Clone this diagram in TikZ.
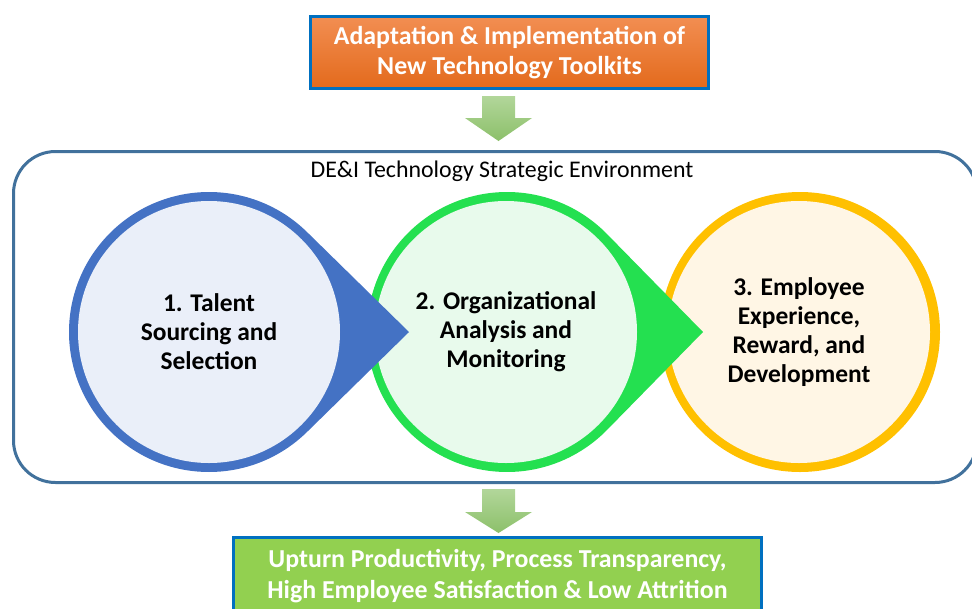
\documentclass[tikz,border=0pt]{standalone}
\usepackage{fontspec}
\setmainfont{Carlito}
\usepackage{tikz}

\definecolor{ringblue}{HTML}{4472C4}
\definecolor{fillblue}{RGB}{234,239,249}
\definecolor{ringgreen}{RGB}{36,224,80}
\definecolor{fillgreen}{RGB}{232,250,236}
\definecolor{ringorange}{HTML}{FFC000}
\definecolor{fillorange}{RGB}{255,246,229}
\definecolor{envline}{HTML}{41719C}
\definecolor{boxline}{HTML}{0070C0}
\definecolor{resultgreen}{HTML}{92D050}
\definecolor{arrowtop}{RGB}{178,214,154}
\definecolor{arrowbot}{RGB}{140,192,106}

\tikzset{
  circtext/.style={circle, minimum size=196.5pt, inner sep=0pt, align=center,
    font=\fontsize{19.1pt}{21.75pt}\selectfont\bfseries},
  topbox/.style={draw=boxline, line width=2.25pt, top color={rgb,255:red,242;green,142;blue,82},
    bottom color={rgb,255:red,227;green,106;blue,28}, minimum width=298.5pt, minimum height=54pt,
    align=center, text=white, font=\fontsize{19.4pt}{22.5pt}\selectfont\bfseries},
  resultbox/.style={draw=boxline, line width=2.25pt, fill=resultgreen, minimum width=396pt,
    minimum height=57.75pt, align=center, text=white,
    font=\fontsize{19.4pt}{23pt}\selectfont\bfseries},
  blockarrow/.style={top color=arrowtop, bottom color=arrowbot}
}

\begin{document}
\begin{tikzpicture}[x=0.75pt,y=0.75pt]
\useasboundingbox (0,0) rectangle (972,-608);

\node[topbox] (adapt) at (509.5,-52.5) {Adaptation \& Implementation of\\New Technology Toolkits};

\shade[blockarrow] (482,-96) -- (515,-96) -- (515,-118) -- (532,-118) -- (498.5,-141) -- (465,-118) -- (482,-118) -- cycle;

% environment frame
\draw[envline, line width=2.25pt, rounded corners=31.5pt] (13.5,-151.5) rectangle (977,-482.5);
\node[font=\fontsize{17.9pt}{21pt}\selectfont] (env) at (502,-171) {DE\&I Technology Strategic Environment};

% circles, back to front
\fill[ringorange] (800,-332) circle[radius=140];
\node[circtext, fill=fillorange] (employee) at (799,-332) {3. Employee\\Experience,\\Reward, and\\Development};

\fill[ringgreen] (703,-332) -- ([shift={(44.4:140)}]507,-332) arc[start angle=44.4, end angle=315.6, radius=140] -- cycle;
\node[circtext, fill=fillgreen] (organ) at (506,-332) {2. Organizational\\Analysis and\\Monitoring};

\fill[ringblue] (409,-332) -- ([shift={(45.6:140)}]209,-332) arc[start angle=45.6, end angle=314.4, radius=140] -- cycle;
\node[circtext, fill=fillblue] (talent) at (209,-332) {1. Talent\\Sourcing and\\Selection};

\shade[blockarrow] (482,-489) -- (515,-489) -- (515,-512) -- (532,-512) -- (498.5,-533) -- (465,-512) -- (482,-512) -- cycle;

\node[resultbox] (result) at (497.5,-576) {Upturn Productivity, Process Transparency,\\High Employee Satisfaction \& Low Attrition};
\end{tikzpicture}
\end{document}
